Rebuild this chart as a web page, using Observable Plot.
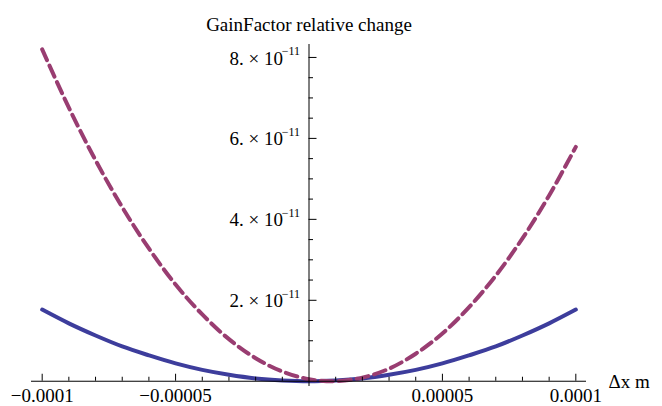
<!DOCTYPE html>
<html><head><meta charset="utf-8">
<script src="https://cdn.jsdelivr.net/npm/d3@7"></script>
<script src="https://cdn.jsdelivr.net/npm/@observablehq/plot@0.6"></script>
<style>
body{margin:0;background:#fff;}
svg{display:block;}
svg text{font-family:"Liberation Serif","Times New Roman",serif !important;}
</style>
</head><body><div id="chart"></div>
<script>
// Δx values (m)
const xValues = [-1e-4, -9e-5, -8e-5, -7e-5, -6e-5, -5e-5, -4e-5, -3e-5, -2e-5, -1e-5, 0,
                 1e-5, 2e-5, 3e-5, 4e-5, 5e-5, 6e-5, 7e-5, 8e-5, 9e-5, 1e-4];
// solid blue series
const gainSolid = [1.77e-11, 1.43e-11, 1.13e-11, 0.86e-11, 0.64e-11, 0.44e-11, 0.28e-11, 0.16e-11, 0.07e-11, 0.02e-11, 0,
                   0.02e-11, 0.07e-11, 0.16e-11, 0.28e-11, 0.44e-11, 0.64e-11, 0.86e-11, 1.13e-11, 1.43e-11, 1.77e-11];
// dashed purple series
const gainDashed = [8.20e-11, 6.76e-11, 5.46e-11, 4.30e-11, 3.28e-11, 2.39e-11, 1.65e-11, 1.04e-11, 0.57e-11, 0.24e-11, 0.05e-11,
                    0.00, 0.09e-11, 0.31e-11, 0.68e-11, 1.18e-11, 1.83e-11, 2.61e-11, 3.53e-11, 4.59e-11, 5.79e-11];

const xTickValues = [-1e-4, -5e-5, 5e-5, 1e-4];
const xTickLabels = ["\u22120.0001", "\u22120.00005", "0.00005", "0.0001"];
const xMinorTicks = [-9e-5, -8e-5, -7e-5, -6e-5, -4e-5, -3e-5, -2e-5, -1e-5, 1e-5, 2e-5, 3e-5, 4e-5, 6e-5, 7e-5, 8e-5, 9e-5];
const yTickValues = [2e-11, 4e-11, 6e-11, 8e-11];
const yTickMantissa = ["2. \u00d7 10", "4. \u00d7 10", "6. \u00d7 10", "8. \u00d7 10"];
const yTickExponent = ["\u221211", "\u221211", "\u221211", "\u221211"];
const yMinorTicks = [0.5e-11, 1e-11, 1.5e-11, 2.5e-11, 3e-11, 3.5e-11, 4.5e-11, 5e-11, 5.5e-11, 6.5e-11, 7e-11, 7.5e-11];
const titleText = "GainFactor relative change";
const xAxisLabel = "\u0394x m";

const W = 662, H = 406, mt = 44, mb = 20, ml = 31, mr = 76;
const xDomain = [-1.04e-4, 1.04e-4];
const yDomain = [-0.13e-11, 8.32e-11];
const pxY = (yDomain[1] - yDomain[0]) / (H - mt - mb);
const pxX = (xDomain[1] - xDomain[0]) / (W - ml - mr);
const font = "Liberation Serif, Times New Roman, serif";

const solid = xValues.map((x, i) => ({x, y: gainSolid[i]}));
const dashed = xValues.map((x, i) => ({x, y: gainDashed[i]}));

const chart = Plot.plot({
  width: W, height: H,
  marginTop: mt, marginBottom: mb, marginLeft: ml, marginRight: mr,
  style: {background: "#fff", fontFamily: font, overflow: "visible"},
  x: {domain: xDomain, axis: null},
  y: {domain: yDomain, axis: null},
  marks: [
    Plot.line(solid, {x: "x", y: "y", curve: "catmull-rom", stroke: "#3d3d9c", strokeWidth: 4}),
    Plot.line(dashed, {x: "x", y: "y", curve: "catmull-rom", stroke: "#993d71", strokeWidth: 4, strokeDasharray: "12,6"}),
    // axes
    Plot.ruleY([0], {x1: xDomain[0], x2: xDomain[1], stroke: "black", strokeWidth: 1}),
    Plot.ruleX([0], {y1: yDomain[0], y2: yDomain[1], stroke: "black", strokeWidth: 1}),
    // x ticks
    Plot.ruleX(xTickValues, {x: d => d, y1: 0, y2: 7 * pxY, stroke: "black", strokeWidth: 1}),
    Plot.ruleX(xMinorTicks, {x: d => d, y1: 0, y2: 4 * pxY, stroke: "black", strokeWidth: 1}),
    // y ticks
    Plot.ruleY(yTickValues, {y: d => d, x1: 0, x2: 8 * pxX, stroke: "black", strokeWidth: 1}),
    Plot.ruleY(yMinorTicks, {y: d => d, x1: 0, x2: 4.5 * pxX, stroke: "black", strokeWidth: 1}),
    // x labels
    Plot.text(xTickValues, {x: d => d, y: 0, text: (d, i) => xTickLabels[i], dy: 15, fontSize: 19, fontFamily: font, fill: "black"}),
    Plot.text([xAxisLabel], {x: xDomain[1], y: 0, text: d => d, dx: 22, dy: 1, textAnchor: "start", fontSize: 19, fontFamily: font, fill: "black"}),
    // y labels
    Plot.text(yTickValues, {x: 0, y: d => d, text: (d, i) => yTickMantissa[i], dx: -26, dy: 1, textAnchor: "end", fontSize: 19, fontFamily: font, fill: "black"}),
    Plot.text(yTickValues, {x: 0, y: d => d, text: (d, i) => yTickExponent[i], dx: -9, dy: -6, textAnchor: "end", fontSize: 12, fontFamily: font, fill: "black"}),
    // title
    Plot.text([titleText], {x: 0, frameAnchor: "top", text: d => d, dy: -27, fontSize: 19, fontFamily: font, fill: "black"})
  ]
});
document.getElementById("chart").appendChild(chart);
</script>
</body></html>
